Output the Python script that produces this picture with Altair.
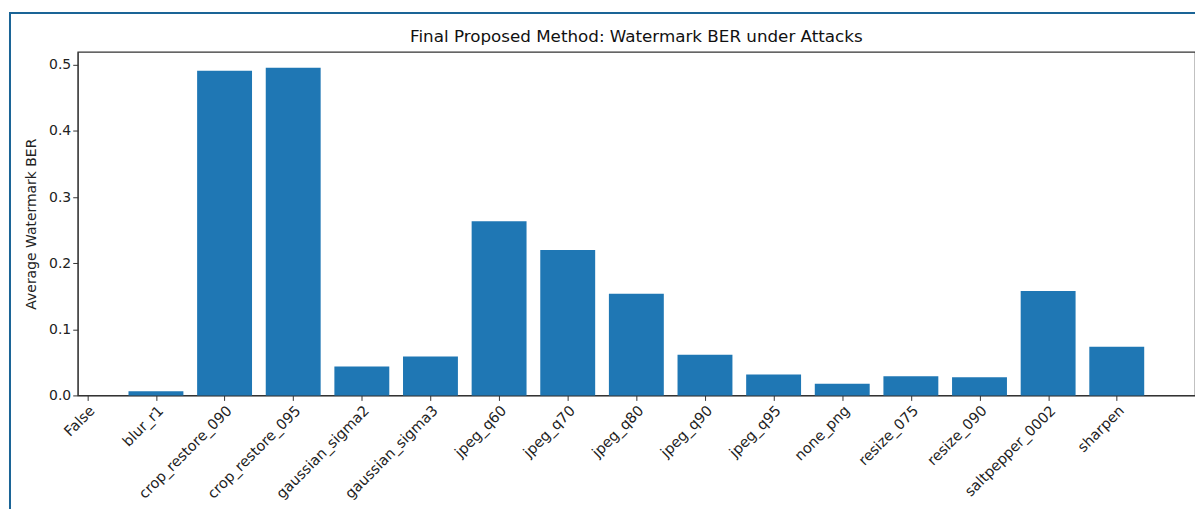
import altair as alt
import pandas as pd

categories = ["False", "blur_r1", "crop_restore_090", "crop_restore_095",
              "gaussian_sigma2", "gaussian_sigma3", "jpeg_q60", "jpeg_q70",
              "jpeg_q80", "jpeg_q90", "jpeg_q95", "none_png", "resize_075",
              "resize_090", "saltpepper_0002", "sharpen"]
ber = [None, 0.0065, 0.491, 0.4955, 0.0437, 0.0587, 0.2636, 0.2199,
       0.1536, 0.0617, 0.0316, 0.0176, 0.029, 0.0276, 0.158, 0.0738]
y_ticks = [0.0, 0.1, 0.2, 0.3, 0.4, 0.5]
title_text = "Final Proposed Method: Watermark BER under Attacks"

df = pd.DataFrame({"idx": list(range(len(categories))), "cat": categories, "ber": ber})
df = df.dropna()

label_map = "{" + ",".join(f"'{i}':'{c}'" for i, c in enumerate(categories)) + "}"

FONT = "DejaVu Sans"
W, H = 1122, 345

bars = alt.Chart(df).transform_calculate(
    x0="datum.idx - 0.4", x1="datum.idx + 0.4"
).mark_rect(color="#1f77b4").encode(
    x=alt.X("x0:Q",
            scale=alt.Scale(domain=[-0.14, 16.14], nice=False, zero=False),
            axis=alt.Axis(values=list(range(len(categories))),
                          labelExpr=f"{label_map}[datum.value]",
                          labelAngle=-45, labelAlign="right", labelBaseline="top",
                          labelFontSize=14.5, labelFont=FONT, labelColor="#222",
                          labelPadding=3, labelOverlap=False, labelBound=False,
                          tickSize=5, tickColor="#333", domainColor="#333",
                          grid=False, title=None)),
    x2="x1:Q",
    y=alt.Y("ber:Q",
            scale=alt.Scale(domain=[0, 0.5196], nice=False),
            axis=alt.Axis(values=y_ticks, format=".1f", labelFontSize=14,
                          labelFont=FONT, labelColor="#222", tickSize=5,
                          tickColor="#333", domainColor="#333", grid=False,
                          title="Average Watermark BER", titleFont=FONT,
                          titleFontSize=14, titleFontWeight="normal",
                          titleColor="#222", titlePadding=10)),
    y2=alt.datum(0),
)

title = alt.Chart(pd.DataFrame({"t": [title_text]})).mark_text(
    font=FONT, fontSize=16.8, color="#111", align="center", baseline="middle"
).encode(x=alt.value(W / 2), y=alt.value(-15), text="t:N")

frame = alt.Chart(pd.DataFrame({"a": [0]})).mark_rect(
    fill=None, stroke="#1a6496", strokeWidth=2, clip=False
).encode(x=alt.value(-68), x2=alt.value(1300), y=alt.value(-39), y2=alt.value(600))

chart = alt.layer(frame, bars, title).properties(
    width=W, height=H,
    autosize=alt.AutoSizeParams(type="none"),
    padding={"left": 70, "top": 43, "right": 0, "bottom": 113},
).configure_view(stroke="#333", strokeWidth=1.2)

chart.save("out.html", embed_options={"renderer": "svg", "actions": False})
